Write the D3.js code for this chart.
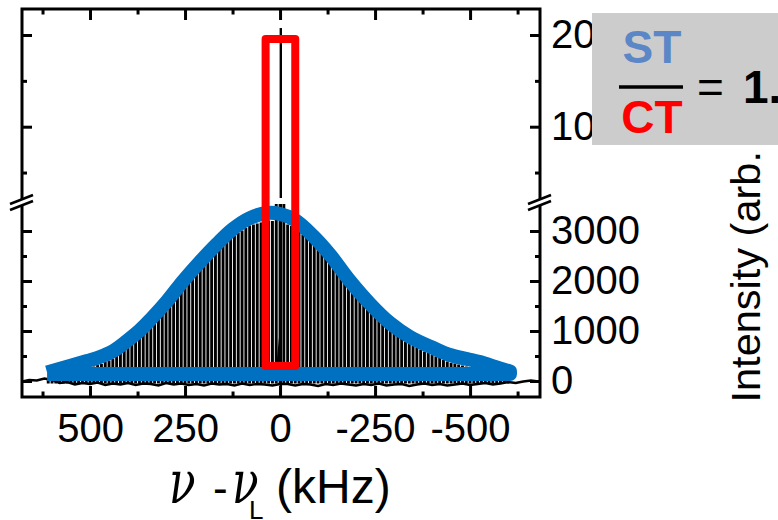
<!DOCTYPE html>
<html><head><meta charset="utf-8">
<script src="https://cdn.jsdelivr.net/npm/d3@7"></script>
<style>body{margin:0;background:#fff} svg{display:block}</style>
</head><body>
<svg id="c" width="778" height="520"></svg>
<script>
// ---- data (kHz offsets, intensities in arb. units) ----
const spikeFreq = [610,600,590,580,570,560,550,540,530,520,
  510,500,490,480,470,460,450,440,430,420,
  410,400,390,380,370,360,350,340,330,320,
  310,300,290,280,270,260,250,240,230,220,
  210,200,190,180,170,160,150,140,130,120,
  110,100,90,80,70,60,50,40,30,20,
  10,0,-10,-20,-30,-40,-50,-60,-70,-80,
  -90,-100,-110,-120,-130,-140,-150,-160,-170,-180,
  -190,-200,-210,-220,-230,-240,-250,-260,-270,-280,
  -290,-300,-310,-320,-330,-340,-350,-360,-370,-380,
  -390,-400,-410,-420,-430,-440,-450,-460,-470,-480,
  -490,-500,-510,-520,-530,-540,-550,-560,-570,-580,
  -590,-600];
const spikeInt = [20,40,60,90,110,130,160,180,200,220,
  250,270,290,320,340,380,410,450,500,560,
  610,670,730,800,860,930,1010,1090,1170,1260,
  1340,1420,1520,1610,1710,1800,1890,1980,2070,2150,
  2240,2320,2400,2480,2560,2630,2700,2780,2850,2910,
  2960,3010,3060,3110,3130,3150,3170,3200,3210,3200,
  3600,3600,3600,3130,3100,3060,3000,2930,2860,2800,
  2720,2640,2560,2470,2390,2290,2190,2090,1990,1890,
  1800,1710,1620,1540,1450,1370,1300,1220,1150,1080,
  1000,950,900,850,790,740,700,670,630,590,
  560,520,490,460,420,390,360,350,330,310,
  290,270,250,240,220,190,170,150,120,90,
  70,40];
const noiseFreq = [680,660,640,620,600,580,560,540,520,500,480,460,440,420,400,380,360,340,320,300,280,260,240,220,200,180,160,140,120,100,80,60,40,20,0,
  -20,-40,-60,-80,-100,-120,-140,-160,-180,-200,-220,-240,-260,-280,-300,-320,-340,-360,-380,-400,-420,-440,-460,-480,-500,-520,-540,-560,-580,-600,-620,-640,-660,-680];
const noiseInt = [-10,20,10,50,20,-40,-20,-70,-40,-60,-30,-80,-50,-70,-40,-80,-50,-60,-90,-40,-70,-50,-80,-60,-90,-50,-70,-60,-90,-50,-80,-60,-70,-90,-60,
  -60,-90,-60,-70,-100,-60,-80,-50,-70,-90,-60,-80,-50,-90,-70,-60,-100,-70,-50,-80,-60,-90,-70,-50,-80,-60,-40,-70,-50,-20,-40,-10,10,-10];
const ctFreq = -2, ctPeak = 207600, ctDip = -550;
const ctBaseFreq = [22,14,8,3,-1,-6,-12];
const ctBaseInt = [0,300,450,860,700,350,0];
const fitFreq = [613,553,508,474,439,403,368,342,297,255,211,166,124,79,34,0,-39,-87,-132,-184,-237,-289,-342,-403,-447,-492,-526,-566,-605];
const fitInt  = [170,300,400,480,600,800,1020,1220,1600,2000,2380,2740,3040,3260,3360,3340,3220,2900,2520,2000,1540,1160,880,660,520,440,380,280,190];
const fitBase = 140;
const boxFreq = [38,-40];
const boxInt = [300,195600];
const xMajor = [500,250,0,-250,-500];
const xMinor = [625,375,125,-125,-375,-625];
const yLowMajor = [0,1000,2000,3000];
const yLowMinor = [500,1500,2500];
const yUpMajor = [100000,200000];
const yUpMinor = [50000,150000];
const ratioText = "1.3";

// ---- layout ----
const L = 22, R = 540, T = 9, B = 397, upBot = 198, lowTop = 204;
const svg = d3.select('#c');
svg.append('rect').attr('width',778).attr('height',520).attr('fill','#fff');
const x = d3.scaleLinear().domain([679,-684]).range([L,R]);
const yL = d3.scaleLinear().domain([-320,3540]).range([B,lowTop]);
const yU = d3.scaleLinear().domain([22250,228350]).range([upBot,T]);
const FONT = "'Liberation Sans', Arial, sans-serif";

const defs = svg.append('defs');
defs.append('clipPath').attr('id','cu').append('rect').attr('x',L).attr('y',T).attr('width',R-L).attr('height',upBot-T);
defs.append('clipPath').attr('id','cl').append('rect').attr('x',L).attr('y',lowTop).attr('width',R-L).attr('height',B-lowTop);

const gl = svg.append('g').attr('clip-path','url(#cl)');
const gu = svg.append('g').attr('clip-path','url(#cu)');

// spikes
gl.selectAll('line.sp').data(spikeInt).join('line').attr('class','sp')
  .attr('x1',(d,i)=>x(spikeFreq[i])).attr('x2',(d,i)=>x(spikeFreq[i]))
  .attr('y1',yL(-50)).attr('y2',d=>yL(d)).attr('stroke','#000').attr('stroke-width',2.9);
// noise baseline
gl.append('path').attr('fill','none').attr('stroke','#000').attr('stroke-width',2.4)
  .attr('d', d3.line().x((d,i)=>x(noiseFreq[i])).y(d=>yL(d))(noiseInt));
// CT base and line
gl.append('path').attr('fill','#000')
  .attr('d', d3.area().x((d,i)=>x(ctBaseFreq[i])).y0(yL(0)).y1(d=>yL(d))(ctBaseInt));
gl.append('line').attr('x1',x(ctFreq)).attr('x2',x(ctFreq)).attr('y1',yL(ctDip)).attr('y2',lowTop-5)
  .attr('stroke','#000').attr('stroke-width',2.4);
gu.append('line').attr('x1',x(ctFreq)).attr('x2',x(ctFreq)).attr('y1',upBot+5).attr('y2',yU(ctPeak))
  .attr('stroke','#000').attr('stroke-width',2.4);

// blue fit envelope
const fitPts = fitFreq.map((f,i)=>[x(f),yL(fitInt[i])]);
const upperD = d3.line().curve(d3.curveCatmullRom)(fitPts);
const n = fitFreq.length-1;
svg.append('path').attr('fill','none').attr('stroke','#0070c0').attr('stroke-width',14)
  .attr('stroke-linejoin','round').attr('stroke-linecap','butt')
  .attr('d', upperD + `L${x(fitFreq[n])},${yL(fitBase)}L${x(fitFreq[0])},${yL(fitBase)}`);

// red CT window
const bx0 = x(boxFreq[0]), bx1 = x(boxFreq[1]), by0 = yL(boxInt[0]), by1 = yU(boxInt[1]);
svg.append('path').attr('fill','none').attr('stroke','#ff0000').attr('stroke-width',8).attr('stroke-linejoin','round')
  .attr('d', `M${bx0},${by0}L${bx0},${by1}L${bx1},${by1}L${bx1},${by0}Z`);

// frame
svg.append('rect').attr('x',L).attr('y',T).attr('width',R-L).attr('height',B-T)
  .attr('fill','none').attr('stroke','#000').attr('stroke-width',3);

function styleAxis(g){
  g.select('.domain').remove();
  g.selectAll('line').attr('stroke','#000').attr('stroke-width',3);
  g.attr('font-family',FONT).attr('font-size',40);
  g.selectAll('text').attr('fill','#000');
}
const fmt = d=>String(d);
// bottom
svg.append('g').attr('transform',`translate(0,${B})`)
  .call(d3.axisBottom(x).tickValues(xMajor).tickSize(-11).tickPadding(16.6).tickFormat(fmt)).call(styleAxis);
svg.append('g').attr('transform',`translate(0,${B})`)
  .call(d3.axisBottom(x).tickValues(xMinor).tickSize(-5.5).tickFormat('')).call(styleAxis);
// top
svg.append('g').attr('transform',`translate(0,${T})`)
  .call(d3.axisTop(x).tickValues(xMajor).tickSize(-11).tickFormat('')).call(styleAxis);
svg.append('g').attr('transform',`translate(0,${T})`)
  .call(d3.axisTop(x).tickValues(xMinor).tickSize(-5.5).tickFormat('')).call(styleAxis);
// left
[[yL,yLowMajor,-10],[yL,yLowMinor,-5],[yU,yUpMajor,-10],[yU,yUpMinor,-5]].forEach(([s,v,k])=>{
  svg.append('g').attr('transform',`translate(${L},0)`)
    .call(d3.axisLeft(s).tickValues(v).tickSize(k).tickFormat('')).call(styleAxis);
});
// right
[[yL,yLowMajor,-10,fmt],[yL,yLowMinor,-5,''],[yU,yUpMajor,-10,fmt],[yU,yUpMinor,-5,'']].forEach(([s,v,k,f])=>{
  svg.append('g').attr('transform',`translate(${R},0)`)
    .call(d3.axisRight(s).tickValues(v).tickSize(k).tickPadding(11).tickFormat(f)).call(styleAxis);
});

// axis break marks
[L,R].forEach(ax=>{
  const yb = 199;
  svg.append('polygon').attr('fill','#fff')
    .attr('points',`${ax-12},${yb+5} ${ax+11},${yb-4} ${ax+11},${yb+2} ${ax-12},${yb+11}`);
  svg.append('line').attr('x1',ax-12).attr('y1',yb+5).attr('x2',ax+11).attr('y2',yb-4).attr('stroke','#000').attr('stroke-width',2.5);
  svg.append('line').attr('x1',ax-12).attr('y1',yb+11).attr('x2',ax+11).attr('y2',yb+2).attr('stroke','#000').attr('stroke-width',2.5);
});

// x axis title
const nuStyle = t => t.attr('font-family',"'DejaVu Serif',serif").attr('font-style','italic').attr('font-size',46).attr('fill','#000');
svg.append('text').attr('transform','translate(169,503) scale(0.95,1.3)').text('ν').call(nuStyle);
svg.append('text').attr('x',213).attr('y',503).attr('font-family',FONT).attr('font-size',44).text('-');
svg.append('text').attr('transform','translate(232,503) scale(0.95,1.3)').text('ν').call(nuStyle);
svg.append('text').attr('x',249).attr('y',519).attr('font-family',FONT).attr('font-size',26).text('L');
svg.append('text').attr('x',276).attr('y',503).attr('font-family',FONT).attr('font-size',48).text('(kHz)');

// y axis title
svg.append('text').attr('transform','translate(760,402.5) rotate(-90)').attr('font-family',FONT).attr('font-size',41.5)
  .text('Intensity (arb. units)');

// ratio box
svg.append('rect').attr('x',592).attr('y',13).attr('width',200).attr('height',132).attr('fill','#cccccc');
svg.append('text').attr('x',652).attr('y',63).attr('text-anchor','middle').attr('font-family',FONT)
  .attr('font-weight','bold').attr('font-size',46).attr('fill','#5b87c7').text('ST');
svg.append('line').attr('x1',619).attr('x2',683).attr('y1',87).attr('y2',87).attr('stroke','#000').attr('stroke-width',3.5);
svg.append('text').attr('x',652).attr('y',133).attr('text-anchor','middle').attr('font-family',FONT)
  .attr('font-weight','bold').attr('font-size',46).attr('fill','#ff0000').text('CT');
svg.append('text').attr('x',697).attr('y',103).attr('font-family',FONT).attr('font-size',46).text('=');
svg.append('text').attr('x',743).attr('y',103).attr('font-family',FONT).attr('font-weight','bold').attr('font-size',46).text(ratioText);
</script>
</body></html>
